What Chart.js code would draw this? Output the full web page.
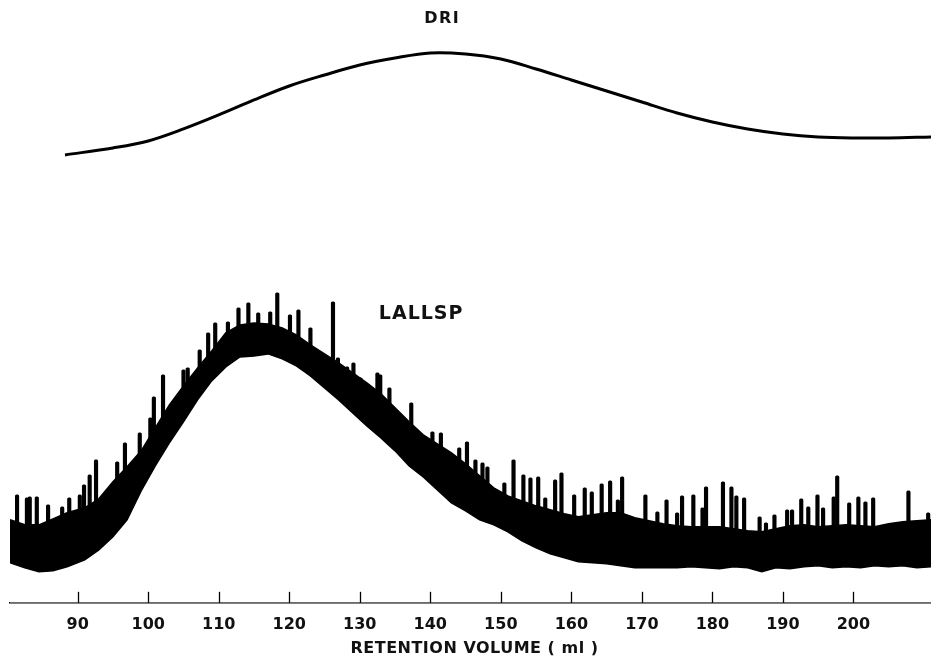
<!DOCTYPE html>
<html>
<head>
<meta charset="utf-8">
<title>DRI / LALLSP chromatogram</title>
<script src="https://cdn.jsdelivr.net/npm/chart.js@4.4.1/dist/chart.umd.min.js"></script>
<style>
  html, body { margin: 0; padding: 0; background: #fff; }
  #wrap { width: 931px; height: 659px; }
</style>
</head>
<body>
<div id="wrap"><canvas id="chart" width="931" height="659"></canvas></div>
<script>
// --- Data ---

const tickVolumes = [90, 100, 110, 120, 130, 140, 150, 160, 170, 180, 190, 200];

// DRI detector, smooth trace
const driVolume = [88.2, 95, 100, 105, 110, 115, 120, 125, 130, 135, 140, 145, 150, 155, 160, 165, 170, 175, 180, 185, 190, 195, 200, 205, 211];
const driSignal = [448, 455, 462, 474, 488, 503, 517, 528, 538, 545, 550, 549, 544, 534, 523, 512, 501, 490, 481, 474, 469, 466, 465, 465, 466];

// LALLSP detector: dense noise band (bottom and top edge) ...
const bandVolume = [80.4, 82.5, 84.5, 86.5, 88.5, 91, 93, 95, 97, 99, 101, 103, 105, 107, 109, 111, 113, 115, 117, 119,
  121, 123, 125, 127, 129, 131, 133, 135, 137, 139, 141, 143, 145, 147, 149, 151, 153, 155, 157, 159,
  161, 163, 165, 167, 169, 171, 173, 175, 177, 179, 181, 183, 185, 187, 189, 191, 193, 195, 197, 199,
  201, 203, 205, 207, 209, 211];
const bandLow = [40, 35, 31, 32, 36, 43, 53, 66, 83, 112, 137, 160, 181, 203, 222, 236, 246, 247, 249, 244,
  237, 227, 215, 203, 190, 177, 165, 152, 137, 126, 113, 100, 92, 83, 78, 71, 62, 55, 49, 45,
  41, 40, 39, 37, 35, 35, 35, 35, 36, 35, 34, 36, 35, 31, 35, 34, 36, 37, 35, 36,
  35, 37, 36, 37, 35, 36];
const bandHigh = [83, 78, 78, 84, 90, 95, 104, 121, 136, 152, 175, 198, 217, 235, 252, 270, 278, 280, 279, 275,
  268, 258, 249, 240, 230, 220, 209, 195, 181, 168, 159, 150, 139, 127, 115, 107, 102, 97, 93, 89,
  86, 88, 90, 90, 85, 82, 79, 77, 76, 76, 76, 74, 72, 71, 74, 77, 78, 76, 77, 78,
  77, 76, 79, 81, 82, 83];

// ... and the tall spikes standing out of it
const spikeVolume = [81.4, 82.8, 83.2, 84.2, 85.8, 87.8, 88.8, 90.3, 90.9, 91.7, 92.6, 95.6, 96.7, 98.8, 100.3, 100.8,
  102.1, 105.0, 105.6, 107.3, 108.5, 109.5, 111.3, 112.8, 114.2, 115.6, 117.3, 118.3, 120.1, 121.3, 123.0,
  126.2, 126.9, 128.2, 129.1, 130.1, 130.8, 132.5, 132.9, 134.2, 136.0, 137.3, 139.3, 140.3, 141.5, 144.1,
  145.2, 146.4, 147.4, 148.1, 150.5, 151.8, 153.2, 154.2, 155.3, 156.3, 157.7, 158.6, 160.4, 161.9, 162.9,
  164.3, 165.5, 166.6, 167.2, 170.5, 172.2, 173.5, 175.0, 175.7, 177.3, 178.6, 179.1, 181.5, 182.7, 183.4,
  184.5, 186.7, 187.6, 188.8, 190.6, 191.3, 192.6, 193.6, 194.9, 195.7, 197.2, 197.7, 199.4, 200.7, 201.7,
  202.8, 207.8, 210.6];
const spikeTop = [108, 105, 106, 106, 98, 96, 105, 108, 118, 128, 143, 141, 160, 170, 185, 206,
  228, 233, 235, 253, 270, 280, 281, 295, 300, 290, 291, 310, 288, 293, 275,
  301, 245, 236, 240, 225, 216, 230, 228, 215, 186, 200, 165, 171, 170, 155,
  161, 143, 140, 136, 120, 143, 128, 125, 126, 105, 123, 130, 108, 115, 111,
  119, 122, 103, 126, 108, 91, 103, 90, 107, 108, 95, 116, 121, 116, 107,
  105, 86, 80, 88, 93, 93, 104, 96, 108, 95, 106, 127, 100, 106, 101,
  105, 112, 90];

const FONT = '"DejaVu Sans", sans-serif';

const pts = (xs, ys) => xs.map((x, i) => ({ x, y: ys[i] }));

// --- Inward tick marks, axis title and the two trace labels ---
const inkPlugin = {
  id: 'ink',
  afterDraw(chart) {
    const { ctx, scales: { x, y } } = chart;
    ctx.save();
    ctx.strokeStyle = '#000';
    ctx.lineWidth = 1.3;
    tickVolumes.forEach(v => {
      const px = Math.round(x.getPixelForValue(v)) + 0.5;
      ctx.beginPath();
      ctx.moveTo(px, x.top);
      ctx.lineTo(px, x.top - 11);
      ctx.stroke();
    });
    ctx.fillStyle = '#111';
    ctx.textAlign = 'center';
    ctx.textBaseline = 'middle';
    ctx.letterSpacing = '1.5px';
    ctx.font = 'bold 16px ' + FONT;
    ctx.fillText('DRI', x.getPixelForValue(141.7), y.getPixelForValue(584));
    ctx.letterSpacing = '1px';
    ctx.font = 'bold 19px ' + FONT;
    ctx.fillText('LALLSP', x.getPixelForValue(138.7), y.getPixelForValue(289));
    ctx.letterSpacing = '0.5px';
    ctx.font = 'bold 16px ' + FONT;
    ctx.fillText('RETENTION VOLUME ( ml )', (x.left + x.right) / 2 + 4, 649);
    ctx.restore();
  }
};

new Chart(document.getElementById('chart'), {
  type: 'line',
  data: {
    datasets: [
      {
        label: 'DRI',
        data: pts(driVolume, driSignal),
        borderColor: '#000',
        borderWidth: 3,
        pointRadius: 0,
        tension: 0.35,
        fill: false,
        order: 0
      },
      {
        // bottom edge of the LALLSP band, whites out the spike bars below it
        label: 'LALLSP low',
        data: pts(bandVolume, bandLow),
        borderColor: '#000',
        borderWidth: 1.5,
        pointRadius: 0,
        fill: 'origin',
        backgroundColor: '#fff',
        order: 2
      },
      {
        label: 'LALLSP high',
        data: pts(bandVolume, bandHigh),
        borderColor: '#000',
        borderWidth: 1.5,
        pointRadius: 0,
        fill: '-1',
        backgroundColor: '#000',
        order: 1
      },
      {
        type: 'bar',
        label: 'LALLSP spikes',
        data: pts(spikeVolume, spikeTop),
        backgroundColor: '#000',
        barThickness: 3.5,
        borderRadius: 1.5,
        borderSkipped: false,
        order: 3
      }
    ]
  },
  options: {
    responsive: false,
    animation: false,
    layout: { padding: { left: 10, right: 0, top: 0, bottom: 12 } },
    plugins: {
      legend: { display: false },
      tooltip: { enabled: false }
    },
    scales: {
      x: {
        type: 'linear',
        position: 'bottom',
        offset: false,
        min: 80.4,
        max: 211,
        z: 1,
        grid: { display: false, drawTicks: false, offset: false },
        border: { display: true, color: '#000', width: 1.5 },
        afterBuildTicks: s => { s.ticks = tickVolumes.map(v => ({ value: v })); },
        ticks: {
          color: '#111',
          font: { family: FONT, size: 16, weight: 'bold' },
          padding: 12.5,
          maxRotation: 0,
          autoSkip: false
        }
      },
      y: {
        display: false,
        min: 0,
        max: 603
      }
    }
  },
  plugins: [inkPlugin]
});
</script>
</body>
</html>
